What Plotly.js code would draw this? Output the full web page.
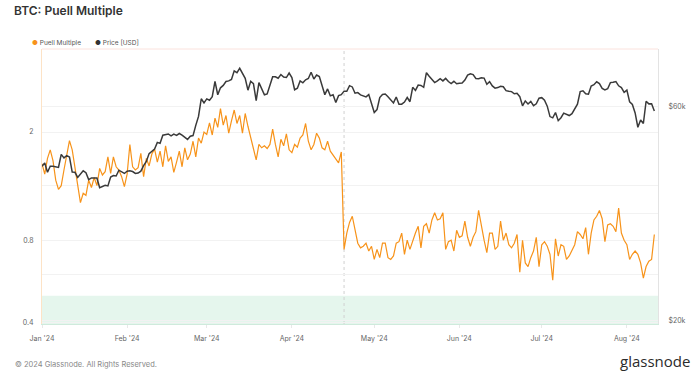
<!DOCTYPE html>
<html><head><meta charset="utf-8">
<script src="https://cdn.plot.ly/plotly-3.0.1.min.js"></script>
<style>html,body{margin:0;padding:0;background:#fff}#chart{width:700px;height:377px}</style>
</head><body><div id="chart"></div>
<script>
const startDate = '2024-01-01';
const titleText = 'BTC: Puell Multiple';
const seriesNames = ['Puell Multiple', 'Price [USD]'];

const puell = [
  // Jan
  1.53,1.40,1.60,1.72,1.57,1.33,1.23,1.27,1.45,1.64,1.86,1.72,1.50,1.30,1.10,1.19,1.17,1.33,1.25,1.36,1.27,1.47,1.39,1.43,1.62,1.41,1.62,1.49,1.45,1.37,1.26,
  // Feb
  1.40,1.80,1.49,1.45,1.48,1.67,1.37,1.60,1.50,1.66,1.73,1.55,1.70,1.49,1.78,1.56,1.62,1.42,1.55,1.70,1.49,1.75,1.58,1.66,1.85,1.62,1.90,1.82,2.00,
  // Mar
  1.96,2.16,1.95,2.25,2.08,2.44,2.12,2.30,1.98,2.20,2.41,2.15,2.30,1.98,2.34,2.10,1.92,1.72,1.58,1.80,1.75,1.78,1.74,1.80,2.05,1.80,1.62,1.88,1.78,1.97,1.72,
  // Apr 1-19
  1.68,1.80,1.76,1.90,1.95,2.15,1.85,1.72,1.80,1.98,1.90,1.75,1.72,1.85,1.70,1.65,1.60,1.54,1.69,
  // Apr 20 onwards
  0.74,0.85,0.93,0.98,0.87,0.78,0.75,0.76,0.78,0.73,
  0.76,0.68,0.74,0.69,0.78,0.78,0.69,0.68,0.70,0.78,
  0.79,0.85,0.71,0.80,0.74,0.80,0.85,0.90,0.75,0.90,
  0.92,0.85,0.95,1.01,0.95,0.96,1.01,0.74,0.79,0.80,
  0.73,0.87,0.82,0.83,0.94,0.82,0.76,0.82,0.86,1.03,
  0.90,0.80,0.72,0.85,0.85,0.74,0.76,0.94,0.80,0.85,
  0.77,0.75,0.78,0.84,0.61,0.80,0.66,0.64,0.69,0.73,
  0.82,0.64,0.77,0.79,0.76,0.71,0.57,0.81,0.70,0.77,
  0.76,0.68,0.70,0.74,0.77,0.86,0.84,0.81,0.89,0.71,
  0.85,0.95,0.98,1.03,0.96,0.79,0.91,0.92,0.90,0.86,
  1.05,0.85,0.80,0.77,0.68,0.71,0.73,0.71,0.66,0.58,
  0.64,0.67,0.68,0.84
];

const price = [
  44180,44950,42850,44180,44160,43970,43930,46970,46120,46660,46340,42890,42840,41730,42510,43150,42740,41260,41620,41660,41580,39570,39890,40080,39940,41820,42120,42030,43300,42940,42580,
  43080,43190,43000,42580,42660,43080,44340,45300,47150,47770,48290,49960,49700,51820,51940,52160,51660,52120,51780,52280,51840,51300,50730,51570,51730,54520,57090,62500,61200,
  62440,62030,63170,68330,63800,66110,66930,68300,68500,69020,72120,71480,73080,71400,69400,65320,68390,67550,61910,67910,65490,63780,64060,67230,69960,69990,69450,70780,69890,69700,71330,
  69700,65450,65980,68510,67840,68900,69360,71630,69150,70590,70060,67200,63820,65740,63430,63810,61280,63510,63840,64990,64930,66840,66410,64290,64500,63760,63420,63110,63840,60640,
  58250,59120,62890,63890,64030,63160,62330,61190,63050,60790,60790,61450,62900,61550,66270,65230,67050,66940,66280,71450,70140,69120,67930,68530,69290,68500,69390,68300,67590,68360,67490,
  67710,67750,68800,70570,71080,70760,69340,69300,69650,69510,67330,68240,66760,66010,66190,66640,66490,65170,64960,64830,64100,64250,63180,60280,61800,60860,61670,60320,60890,62680,
  62850,62030,60170,57030,56660,58230,55850,56700,58050,57720,57340,57900,59230,60790,64870,65100,64120,63990,66710,67160,68190,67550,65930,65370,65780,67910,68000,68260,66800,66200,64620,
  65350,61500,60700,58120,53990,56030,55030,61710,60880,60940,58710
];

const monthTicks = ['2024-01-01','2024-02-01','2024-03-01','2024-04-01','2024-05-01','2024-06-01','2024-07-01','2024-08-01'];
const monthLabels = ["Jan '24","Feb '24","Mar '24","Apr '24","May '24","Jun '24","Jul '24","Aug '24"];
const puellTicks = [0.4, 0.6, 0.8, 1, 2];
const puellTickLabels = ['0.4', '', '0.8', '', '2'];
const priceTicks = [20000, 40000, 60000];
const priceTickLabels = ['$20k', '', '$60k'];
const halvingDate = '2024-04-20';
const bandTop = 0.5;
const bandBottom = 0.3;
const xRange = ['2024-01-01', '2024-08-12 08:00'];
const puellRange = [0.3935, 4.04];
const priceRange = [19650, 80700];

function dayList(start, n) {
  const out = [];
  const t0 = Date.parse(start + 'T00:00:00Z');
  for (let i = 0; i < n; i++) {
    out.push(new Date(t0 + i * 86400000).toISOString().slice(0, 10));
  }
  return out;
}
const dates = dayList(startDate, price.length);

const FONT = 'Inter, "Noto Sans", "DejaVu Sans", sans-serif';

const traces = [
  {
    x: dates, y: price, name: seriesNames[1], type: 'scatter', mode: 'lines',
    yaxis: 'y2', line: {color: '#3a3a3a', width: 1.5}, showlegend: false, hoverinfo: 'skip'
  },
  {
    x: dates, y: puell, name: seriesNames[0], type: 'scatter', mode: 'lines',
    yaxis: 'y', line: {color: '#f7931a', width: 1.2}, showlegend: false, hoverinfo: 'skip'
  }
];

const layout = {
  width: 700, height: 377,
  margin: {l: 42, r: 42, t: 49, b: 53, pad: 0},
  paper_bgcolor: '#ffffff', plot_bgcolor: '#ffffff',
  font: {family: FONT, size: 7, color: '#666'},
  showlegend: false,
  title: {
    text: titleText, xref: 'container', yref: 'container', x: 0.02, xanchor: 'left',
    y: 0.972, yanchor: 'middle', font: {family: FONT, size: 12, color: '#333', weight: 600}
  },
  xaxis: {
    type: 'date', range: xRange, tickvals: monthTicks, ticktext: monthLabels,
    showgrid: false, zeroline: false, showline: true, linecolor: '#cfeadc', linewidth: 1,
    ticks: 'outside', ticklen: 3, tickcolor: '#e8e8e8', ticklabelstandoff: 5,
    tickfont: {family: FONT, size: 7, color: '#666'}
  },
  yaxis: {
    type: 'log', range: puellRange.map(Math.log10), tickvals: puellTicks, ticktext: puellTickLabels,
    showgrid: true, gridcolor: '#f2f2f2', gridwidth: 1, zeroline: false,
    showline: true, linecolor: '#fde3c6', linewidth: 1, ticks: '', ticklabelstandoff: 6,
    tickfont: {family: FONT, size: 7, color: '#666'}
  },
  yaxis2: {
    type: 'log', range: priceRange.map(Math.log10), overlaying: 'y', side: 'right',
    tickvals: priceTicks, ticktext: priceTickLabels,
    showgrid: true, gridcolor: '#f2f2f2', gridwidth: 1, zeroline: false,
    showline: true, linecolor: '#e3e3e3', linewidth: 1, ticks: '', ticklabelstandoff: 8,
    tickfont: {family: FONT, size: 7, color: '#666'}
  },
  shapes: [
    {type: 'rect', xref: 'paper', yref: 'y', x0: 0, x1: 1, y0: bandBottom, y1: bandTop,
     fillcolor: '#e5f6ed', line: {width: 0}, layer: 'below'},
    {type: 'line', xref: 'x', yref: 'paper', x0: halvingDate, x1: halvingDate, y0: 0, y1: 1,
     line: {color: '#d0d0d0', width: 1, dash: 'dot'}, layer: 'below'},
    {type: 'line', xref: 'paper', yref: 'paper', x0: 0, x1: 1, y0: 1, y1: 1,
     line: {color: '#fbe2dd', width: 1}}
  ],
  annotations: [
    {xref: 'paper', yref: 'paper', x: -0.0195, y: 1.0218, xanchor: 'left', yanchor: 'middle', showarrow: false,
     text: '<span style="color:#f7931a">●</span> ' + seriesNames[0], font: {family: FONT, size: 6.5, color: '#555'}},
    {xref: 'paper', yref: 'paper', x: 0.0828, y: 1.0218, xanchor: 'left', yanchor: 'middle', showarrow: false,
     text: '<span style="color:#333">●</span> ' + seriesNames[1], font: {family: FONT, size: 6.5, color: '#555'}},
    {xref: 'paper', yref: 'paper', x: -0.0471, y: -0.149, xanchor: 'left', yanchor: 'middle', showarrow: false,
     text: '© 2024 Glassnode. All Rights Reserved.', font: {family: FONT, size: 7.5, color: '#888'}},
    {xref: 'paper', yref: 'paper', x: 1.0552, y: -0.1345, xanchor: 'right', yanchor: 'middle', showarrow: false,
     text: 'glassnode', font: {family: '"Open Sans", Lato, sans-serif', size: 15, color: '#2b2b2b'}}
  ]
};

Plotly.newPlot('chart', traces, layout, {displayModeBar: false, staticPlot: true});
</script>
</body></html>
